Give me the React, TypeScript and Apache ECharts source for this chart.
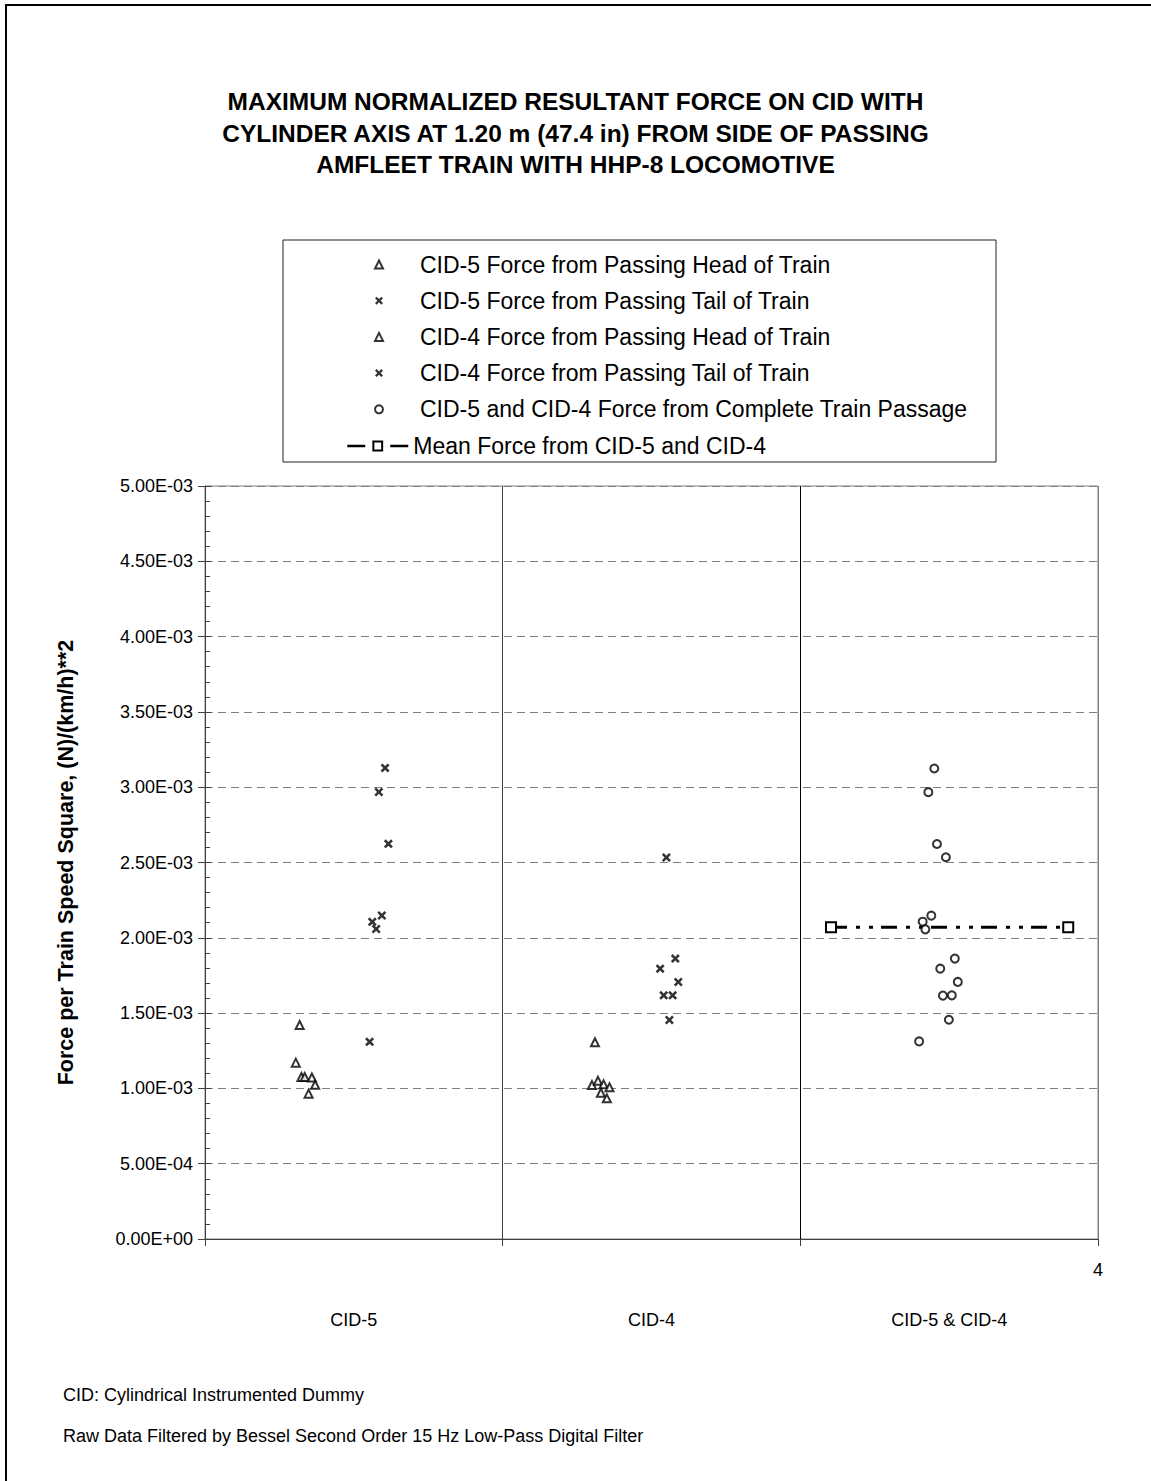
import React, { useEffect, useRef } from "react";
import * as echarts from "echarts";

const FONT = '"Liberation Sans", Arial, sans-serif';

const titleLines = [
  "MAXIMUM NORMALIZED RESULTANT FORCE ON CID WITH",
  "CYLINDER AXIS AT 1.20 m (47.4 in) FROM SIDE OF PASSING",
  "AMFLEET TRAIN WITH HHP-8 LOCOMOTIVE",
];
const yAxisTitle = "Force per Train Speed Square, (N)/(km/h)**2";
const categoryLabels: Record<string, string> = { "1.5": "CID-5", "2.5": "CID-4", "3.5": "CID-5 & CID-4" };
const footnotes = [
  "CID: Cylindrical Instrumented Dummy",
  "Raw Data Filtered by Bessel Second Order 15 Hz Low-Pass Digital Filter",
];
const seriesNames = [
  "CID-5 Force from Passing Head of Train",
  "CID-5 Force from Passing Tail of Train",
  "CID-4 Force from Passing Head of Train",
  "CID-4 Force from Passing Tail of Train",
  "CID-5 and CID-4 Force from Complete Train Passage",
  "Mean Force from CID-5 and CID-4",
];

// [x position, force (N)/(km/h)^2]
const cid5Head: [number, number][] = [
  [1.318, 1.421e-3], [1.305, 1.171e-3], [1.324, 1.076e-3], [1.335, 1.076e-3],
  [1.359, 1.072e-3], [1.37, 1.024e-3], [1.348, 0.965e-3],
];
const cid5Tail: [number, number][] = [
  [1.605, 3.128e-3], [1.584, 2.968e-3], [1.616, 2.624e-3], [1.594, 2.148e-3],
  [1.562, 2.106e-3], [1.575, 2.058e-3], [1.553, 1.309e-3],
];
const cid4Head: [number, number][] = [
  [2.31, 1.306e-3], [2.3, 1.022e-3], [2.32, 1.051e-3], [2.339, 1.027e-3],
  [2.359, 1.007e-3], [2.33, 0.971e-3], [2.35, 0.934e-3],
];
const cid4Tail: [number, number][] = [
  [2.55, 2.533e-3], [2.58, 1.862e-3], [2.529, 1.795e-3], [2.59, 1.707e-3],
  [2.541, 1.618e-3], [2.571, 1.618e-3], [2.56, 1.454e-3],
];
const complete: [number, number][] = [
  [3.45, 3.124e-3], [3.43, 2.967e-3], [3.459, 2.623e-3], [3.489, 2.535e-3],
  [3.44, 2.147e-3], [3.411, 2.107e-3], [3.42, 2.056e-3], [3.519, 1.862e-3],
  [3.47, 1.795e-3], [3.529, 1.707e-3], [3.479, 1.616e-3], [3.509, 1.618e-3],
  [3.499, 1.456e-3], [3.399, 1.312e-3],
];
const meanLine: [number, number][] = [
  [3.103, 2.07e-3], [3.9, 2.07e-3],
];

const CROSS = "path://M0,2L2,0L5,3L8,0L10,2L7,5L10,8L8,10L5,7L2,10L0,8L3,5Z";

function fmtExp(v: number): string {
  const s = v.toExponential(2);
  const [m, e] = s.split("e");
  const sign = e[0] === "-" ? "-" : "+";
  const d = e.replace(/[-+]/, "").padStart(2, "0");
  return `${m}E${sign}${d}`;
}

export default function App() {
  const ref = useRef<HTMLDivElement>(null);
  useEffect(() => {
    document.body.style.margin = "0";
    if (!ref.current) return;
    const chart = echarts.init(ref.current, undefined, { renderer: "svg" });
    const tri = { color: "#fff", borderColor: "#000", borderWidth: 2 };
    const circ = { color: "#fff", borderColor: "#000", borderWidth: 2 };
    const crossStyle = { color: "#000" };
    chart.setOption({
      animation: false,
      backgroundColor: "#fff",
      title: {
        text: titleLines.join("\n"),
        left: "center",
        top: 81,
        textStyle: { fontFamily: FONT, fontSize: 24.5, fontWeight: "bold", lineHeight: 31.5, color: "#000" },
      },
      legend: [
        {
          data: seriesNames.slice(0, 5),
          orient: "vertical",
          left: 374,
          top: 253,
          padding: 0,
          itemWidth: 8,
          itemHeight: 8,
          itemGap: 13.2,
          textStyle: { fontFamily: FONT, fontSize: 23, color: "#000", lineHeight: 23, padding: [0, 0, 0, 32] },
          selectedMode: false,
        },
        {
          data: [seriesNames[5]],
          orient: "vertical",
          left: 346,
          top: 434.5,
          padding: 0,
          itemWidth: 61,
          itemHeight: 11,
          textStyle: { fontFamily: FONT, fontSize: 23, color: "#000", lineHeight: 23 },
          lineStyle: { type: [18, 25], width: 2.5, color: "#000" },
          selectedMode: false,
        },
      ],
      grid: { left: 205, right: 53, top: 486, bottom: 242, show: true, borderColor: "#808080", borderWidth: 1 },
      xAxis: [
        {
          type: "value",
          min: 1,
          max: 4,
          interval: 1,
          position: "bottom",
          axisLine: { show: true, lineStyle: { color: "#404040", width: 1 } },
          axisTick: { show: true, inside: false, length: 7, lineStyle: { color: "#404040" } },
          axisLabel: {
            formatter: (v: number) => (v === 4 ? "4" : ""),
            margin: 22,
            fontFamily: FONT,
            fontSize: 18,
            color: "#000",
          },
          splitLine: { show: true, lineStyle: { color: ["#404040", "#404040", "#000", "#808080"], width: 1 } },
        },
        {
          type: "value",
          min: 1,
          max: 4,
          interval: 0.5,
          position: "bottom",
          axisLine: { show: false },
          axisTick: { show: false },
          splitLine: { show: false },
          axisLabel: {
            formatter: (v: number) => categoryLabels[String(v)] || "",
            margin: 72,
            fontFamily: FONT,
            fontSize: 18,
            color: "#000",
          },
        },
      ],
      yAxis: [
        {
          type: "value",
          min: 0,
          max: 0.005,
          interval: 0.0005,
          name: yAxisTitle,
          nameLocation: "middle",
          nameGap: 128,
          nameTextStyle: { fontFamily: FONT, fontSize: 21.5, fontWeight: "bold", color: "#000" },
          axisLine: { show: true, lineStyle: { color: "#404040", width: 1 } },
          axisTick: { show: true, inside: false, length: 7, lineStyle: { color: "#404040" } },
          axisLabel: { formatter: fmtExp, margin: 12, fontFamily: FONT, fontSize: 18, color: "#000" },
          splitLine: { show: true, lineStyle: { color: "#808080", type: [8, 5], width: 1 } },
        },
        {
          type: "value",
          min: 0,
          max: 0.005,
          interval: 0.0005,
          position: "left",
          axisLine: { show: false },
          axisLabel: { show: false },
          splitLine: { show: false },
          axisTick: { show: true, inside: true, length: 6, lineStyle: { color: "#404040" } },
          minorTick: { show: true, splitNumber: 5, length: 5, lineStyle: { color: "#404040" } },
        },
      ],
      series: [
        { name: seriesNames[0], type: "scatter", data: cid5Head, symbol: "triangle", symbolSize: 8, itemStyle: tri },
        { name: seriesNames[1], type: "scatter", data: cid5Tail, symbol: CROSS, symbolSize: 9, itemStyle: crossStyle },
        { name: seriesNames[2], type: "scatter", data: cid4Head, symbol: "triangle", symbolSize: 8, itemStyle: tri },
        { name: seriesNames[3], type: "scatter", data: cid4Tail, symbol: CROSS, symbolSize: 9, itemStyle: crossStyle },
        { name: seriesNames[4], type: "scatter", data: complete, symbol: "circle", symbolSize: 8, itemStyle: circ },
        {
          name: seriesNames[5],
          type: "line",
          data: meanLine,
          symbol: "rect",
          symbolSize: 10,
          itemStyle: { color: "#fff", borderColor: "#000", borderWidth: 2 },
          lineStyle: { color: "#000", width: 3, type: [16, 9, 4, 9, 4, 8] },
          z: 1,
        },
      ],
      graphic: [
        {
          type: "rect",
          shape: { x: 283, y: 240, width: 713, height: 222 },
          style: { fill: "none", stroke: "#202020", lineWidth: 1 },
          silent: true,
        },
        { type: "line", shape: { x1: 5, y1: 5, x2: 1160, y2: 5 }, style: { stroke: "#000", lineWidth: 2 }, silent: true },
        { type: "line", shape: { x1: 6, y1: 4, x2: 6, y2: 1490 }, style: { stroke: "#000", lineWidth: 2 }, silent: true },
        ...footnotes.map((t, i) => ({
          type: "text",
          x: 63,
          y: i === 0 ? 1395 : 1436,
          style: { text: t, fontFamily: FONT, fontSize: 18, fill: "#000", align: "left", verticalAlign: "middle" },
          silent: true,
        })),
      ],
    });
    return () => chart.dispose();
  }, []);
  return (
    <div
      ref={ref}
      style={{ position: "absolute", left: 0, top: 0, width: 1151, height: 1481, background: "#fff" }}
    />
  );
}
